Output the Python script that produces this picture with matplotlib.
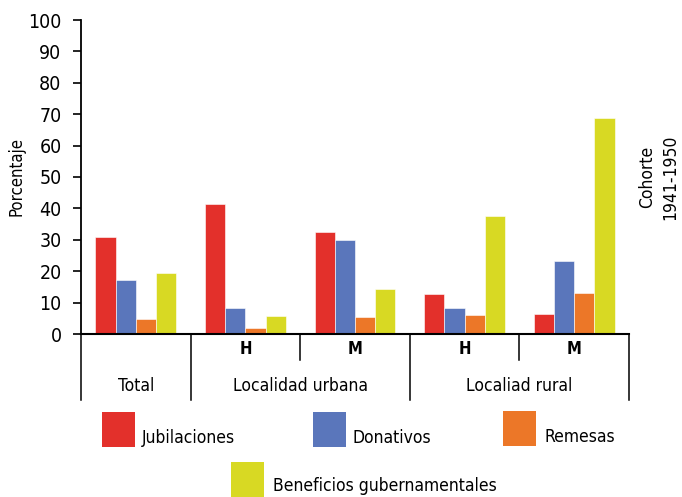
import matplotlib
matplotlib.use("Agg")
import matplotlib.pyplot as plt
from matplotlib.patches import Rectangle
from matplotlib import font_manager as fm
import numpy as np

# ---- data ----
slots = ["Total", "H", "M", "H", "M"]
groups = ["Total", "Localidad urbana", "Localiad rural"]
series = ["Jubilaciones", "Donativos", "Remesas", "Beneficios gubernamentales"]
jubilaciones = [31, 41.3, 32.5, 12.7, 6.4]
donativos = [17.2, 8.3, 30.0, 8.3, 23.3]
remesas = [4.8, 1.9, 5.4, 6.0, 13.1]
beneficios = [19.4, 5.7, 14.3, 37.6, 68.8]
colors = ["#E3302B", "#5A76BB", "#EC7728", "#D8D923"]
yticks = [0, 10, 20, 30, 40, 50, 60, 70, 80, 90, 100]

names = {f.name for f in fm.fontManager.ttflist}
if "Liberation Sans Narrow" in names:
    FAM, STR = "Liberation Sans Narrow", "normal"
else:
    FAM, STR = "DejaVu Sans", "condensed"
plt.rcParams["font.family"] = FAM
plt.rcParams["font.stretch"] = STR

W, H = 682, 497
fig = plt.figure(figsize=(W / 100, H / 100), dpi=100)
ax = fig.add_axes([81 / W, 1 - 334 / H, (629 - 81) / W, (334 - 20) / H])

vals = [jubilaciones, donativos, remesas, beneficios]
x = np.arange(len(slots))
bw = 0.184
for i, (v, c) in enumerate(zip(vals, colors)):
    ax.bar(x + (i - 1.5) * bw, v, bw, color=c, edgecolor="white", linewidth=0.4, zorder=2)

ax.set_xlim(-0.5, len(slots) - 0.5)
ax.set_ylim(0, 100)
ax.set_yticks(yticks)
ax.set_yticklabels([str(t) for t in yticks], fontsize=14)
ax.tick_params(axis="y", direction="out", length=6, width=1.2, pad=8)
ax.set_xticks([])
for s in ["top", "right"]:
    ax.spines[s].set_visible(False)
ax.spines["left"].set_linewidth(1.3)
ax.spines["bottom"].set_linewidth(1.5)
ax.set_ylabel("Porcentaje", fontsize=12)
ax.yaxis.set_label_coords((26 - 81) / 548, 0.5)

# lower category tiers
trans = ax.get_xaxis_transform()
def ypx(p):
    return (334 - p) / (334 - 20)
long_divs = [-0.5, 0.5, 2.5, 4.5]
short_divs = [1.5, 3.5]
for d in long_divs:
    ax.plot([d, d], [ypx(334), ypx(400)], color="black", lw=1.1, transform=trans, clip_on=False)
for d in short_divs:
    ax.plot([d, d], [ypx(334), ypx(360)], color="black", lw=1.1, transform=trans, clip_on=False)
for xi, lab in enumerate(slots):
    if lab in ("H", "M"):
        ax.text(xi, ypx(349), lab, transform=trans, ha="center", va="center",
                fontsize=12, fontweight="bold")
group_pos = [0, 1.5, 3.5]
for gp, g in zip(group_pos, groups):
    ax.text(gp, ypx(386), g, transform=trans, ha="center", va="center", fontsize=12.5)

# right side annotation
fig.text(659 / W, 1 - 177 / H, "Cohorte\n1941-1950", rotation=90, ha="center", va="center",
         fontsize=12.5, linespacing=1.35)

# legend
leg = [(102, 412, 142, 438), (313, 412, 352, 438), (503, 411, 545, 437), (231, 462, 273, 486)]
for (sx, sy, tx, ty), lab, c in zip(leg, series, colors):
    fig.patches.append(Rectangle((sx / W, 1 - (sy + 35) / H), 33 / W, 35 / H,
                                 transform=fig.transFigure, facecolor=c, edgecolor="none"))
    fig.text(tx / W, 1 - ty / H, lab, ha="left", va="center", fontsize=12.5)

fig.savefig("out.png", dpi=100)
